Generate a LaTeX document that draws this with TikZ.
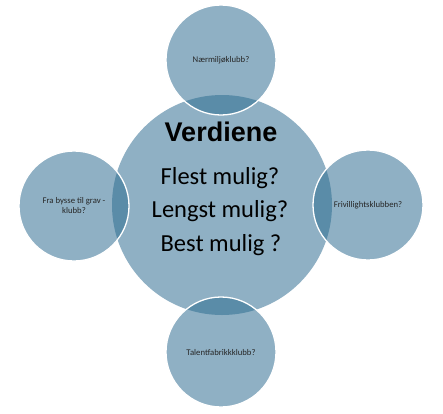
\documentclass[tikz,border=0pt]{standalone}
\usepackage{fontspec}
\setmainfont{Carlito}
\newfontfamily\headfont{Liberation Sans}
\definecolor{ballblue}{HTML}{8FB0C4}
\definecolor{lensblue}{HTML}{5A8CA8}
\begin{document}
\begin{tikzpicture}[x=1pt,y=-1pt,
        ball/.style={circle,fill=ballblue,inner sep=0pt,minimum size=110pt,align=center,
            font=\fontsize{8.7}{10}\selectfont,text=black!85},
        rim/.style={draw=white,line width=1.3pt},
        line/.style={anchor=base,inner sep=0pt,text=black,font=\fontsize{24.5}{30}\selectfont}]
        \useasboundingbox[fill=white] (0,0) rectangle (443,413);
        %% Centre
        \node[circle,fill=ballblue,minimum size=220pt] (V) at (222,205) {};
        %% Satellites
        \node[ball] (N) at (221,60) {Nærmiljøklubb?};
        \node[ball] (F) at (74,206) {Fra bysse til grav -\\klubb?};
        \node[ball] (R) at (368,205) {Frivillightsklubben?};
        \node[ball] (T) at (221,352) {Talentfabrikkklubb?};
        %% Overlaps
        \begin{scope}
            \clip (V.center) circle (110);
            \foreach \s in {N,F,R,T}
                \fill[lensblue] (\s.center) circle (55);
        \end{scope}
        \foreach \s in {N,F,R,T}
            \draw[rim] (\s.center) circle (55);
        %% Labels
        \node[line,font=\headfont\bfseries\fontsize{27}{30}\selectfont] (Q0) at (221,141) {Verdiene};
        \node[line] (Q1) at (220,184) {Flest mulig?};
        \node[line] (Q2) at (220,217) {Lengst mulig?};
        \node[line] (Q3) at (221,251) {Best mulig ?};
    \end{tikzpicture}
\end{document}
